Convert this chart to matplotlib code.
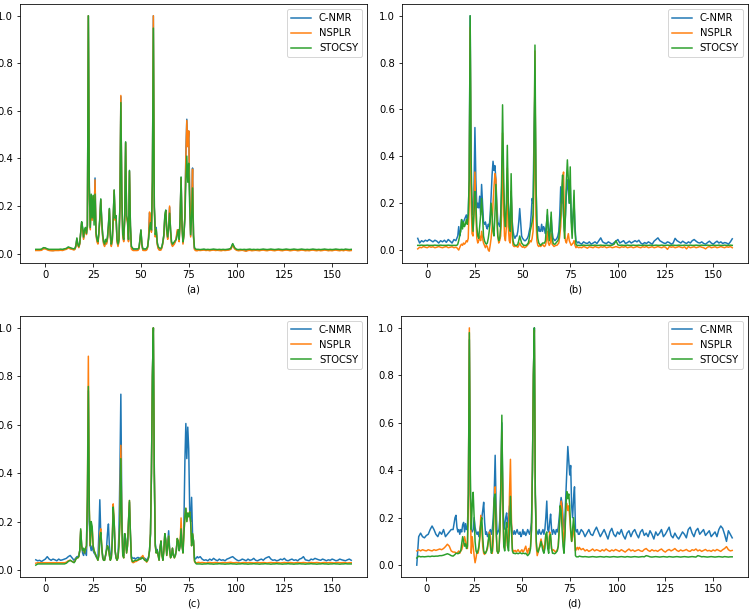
import numpy as np
import matplotlib
matplotlib.use('Agg')
import matplotlib.pyplot as plt

# x grid: coarse on the flat baseline, finer where the peaks are
x = np.concatenate([np.arange(-5, 15), np.arange(15, 80, 0.5), np.arange(80, 161)])

labels = ['C-NMR', 'NSPLR', 'STOCSY']
panel_names = ['(a)', '(b)', '(c)', '(d)']

# intensities in thousandths (-5..14 | 15..79.5 step .5 | 80..160)
a_cnmr = [
    15, 15, 16, 16, 22, 22, 18, 15, 14, 13, 14, 15, 15, 15, 16, 18, 20, 26, 22, 20,
    18, 20, 32, 62, 38, 28, 42, 88, 132, 105,
    65, 95, 105, 82, 115, 1000, 275, 105, 245, 145,
    242, 150, 318, 85, 55, 45, 85, 145, 228, 135,
    75, 45, 35, 55, 45, 65, 115, 188, 75, 35,
    55, 145, 266, 145, 155, 55, 35, 55, 195, 660,
    245, 75, 55, 145, 468, 155, 135, 55, 348, 115,
    30, 20, 16, 15, 16, 15, 16, 17, 22, 58,
    98, 38, 17, 16, 15, 16, 18, 28, 65, 170,
    140, 95, 305, 1000, 195, 110, 110, 45, 25, 18,
    16, 18, 28, 48, 78, 155, 182, 95, 65, 115,
    195, 95, 45, 35, 40, 45, 52, 65, 90, 100,
    55, 145, 320, 115, 45, 80, 155, 420, 565, 450,
    515, 250, 75, 200, 360, 75, 20, 16, 15, 14,
    16, 15, 16, 17, 15, 16, 14, 16, 17, 15,
    16, 15, 14, 16, 15, 16, 17, 20, 40, 22,
    16, 14, 15, 16, 14, 12, 15, 16, 14, 15,
    16, 15, 14, 16, 17, 15, 14, 16, 17, 15,
    14, 16, 17, 15, 14, 16, 17, 16, 14, 15,
    17, 16, 14, 15, 17, 16, 14, 15, 14, 16,
    17, 15, 14, 16, 14, 15, 17, 16, 14, 15,
    14, 16, 17, 15, 14, 16, 14, 17, 15, 14,
    15]
a_nsplr = [
    13, 13, 13, 14, 20, 20, 16, 13, 12, 12, 13, 13, 13, 14, 13, 16, 18, 24, 20, 18,
    15, 18, 30, 60, 35, 25, 40, 85, 130, 100,
    60, 90, 100, 80, 110, 1000, 270, 100, 240, 140,
    240, 150, 310, 80, 50, 40, 80, 140, 225, 130,
    70, 40, 30, 50, 40, 60, 110, 185, 70, 30,
    50, 140, 265, 140, 150, 50, 30, 50, 190, 665,
    240, 70, 50, 140, 465, 150, 130, 50, 345, 110,
    20, 15, 13, 13, 13, 13, 13, 14, 20, 55,
    95, 35, 14, 13, 13, 13, 15, 25, 70, 175,
    150, 90, 310, 1000, 190, 70, 100, 40, 22, 15,
    14, 15, 25, 45, 75, 150, 180, 90, 60, 120,
    200, 90, 40, 30, 35, 40, 50, 70, 100, 100,
    50, 140, 315, 110, 40, 80, 160, 400, 560, 450,
    516, 250, 70, 200, 355, 70, 18, 13, 12, 12,
    14, 13, 14, 15, 13, 14, 12, 14, 15, 13,
    14, 13, 12, 14, 13, 14, 15, 18, 35, 20,
    14, 12, 13, 14, 12, 10, 13, 14, 12, 13,
    14, 13, 12, 14, 15, 13, 12, 14, 15, 13,
    12, 14, 15, 13, 12, 14, 15, 14, 12, 13,
    15, 14, 12, 13, 15, 14, 12, 13, 12, 14,
    15, 13, 12, 14, 12, 13, 15, 14, 12, 13,
    12, 14, 15, 13, 12, 14, 12, 15, 13, 12,
    13]
a_stocsy = [
    18, 18, 18, 19, 25, 24, 20, 18, 18, 18, 18, 18, 18, 19, 18, 20, 22, 28, 25, 22,
    20, 22, 35, 66, 40, 30, 45, 90, 134, 110,
    70, 100, 110, 85, 120, 1000, 280, 110, 250, 150,
    245, 120, 250, 90, 60, 50, 90, 150, 230, 140,
    80, 50, 40, 60, 50, 70, 120, 190, 80, 40,
    60, 150, 268, 150, 160, 60, 40, 60, 200, 635,
    250, 80, 60, 150, 470, 160, 140, 60, 350, 120,
    30, 25, 20, 20, 20, 20, 20, 20, 25, 60,
    100, 40, 20, 20, 20, 20, 22, 30, 60, 110,
    130, 100, 300, 948, 200, 80, 100, 50, 30, 25,
    22, 22, 30, 50, 80, 160, 183, 100, 70, 110,
    170, 100, 50, 40, 45, 50, 55, 60, 80, 100,
    60, 150, 322, 120, 50, 80, 150, 300, 410, 300,
    380, 200, 80, 150, 276, 80, 25, 20, 18, 18,
    18, 17, 18, 19, 17, 18, 17, 18, 19, 18,
    17, 18, 17, 18, 17, 18, 19, 22, 42, 25,
    18, 17, 18, 17, 18, 17, 18, 19, 17, 18,
    17, 18, 17, 18, 19, 18, 17, 18, 19, 18,
    17, 18, 19, 18, 17, 18, 19, 18, 17, 18,
    19, 18, 17, 18, 19, 18, 17, 18, 17, 18,
    19, 18, 17, 18, 17, 18, 19, 18, 17, 18,
    17, 18, 19, 18, 17, 18, 17, 19, 18, 17,
    18]

b_cnmr = [
    50, 30, 40, 35, 42, 38, 45, 40, 35, 42, 38, 30, 40, 35, 42, 33, 45, 38, 30, 45,
    40, 50, 60, 100, 60, 80, 130, 110, 120, 130,
    140, 150, 125, 155, 300, 1000, 300, 200, 150, 250,
    523, 300, 180, 200, 180, 230, 150, 280, 200, 120,
    110, 120, 100, 90, 110, 100, 150, 230, 320, 379,
    340, 360, 300, 200, 120, 110, 100, 150, 250, 400,
    250, 150, 120, 150, 300, 200, 120, 100, 250, 130,
    80, 60, 50, 60, 60, 80, 120, 177, 120, 60,
    50, 45, 40, 40, 45, 50, 60, 80, 100, 150,
    220, 200, 500, 700, 300, 120, 80, 100, 80, 80,
    110, 80, 100, 90, 70, 110, 150, 90, 70, 100,
    140, 80, 50, 45, 40, 45, 50, 60, 80, 150,
    270, 200, 250, 150, 80, 150, 250, 300, 250, 200,
    280, 150, 80, 150, 200, 100, 40, 35, 30, 35,
    30, 25, 35, 30, 28, 35, 25, 30, 35, 28,
    40, 52, 35, 30, 28, 35, 30, 25, 32, 38,
    45, 30, 35, 40, 28, 32, 38, 30, 35, 40,
    35, 42, 30, 25, 32, 28, 35, 30, 25, 38,
    45, 52, 40, 35, 30, 28, 35, 32, 25, 30,
    50, 40, 35, 30, 38, 32, 28, 35, 30, 40,
    45, 38, 32, 30, 35, 28, 25, 32, 38, 30,
    25, 32, 38, 30, 35, 28, 32, 30, 25, 35,
    48]
b_nsplr = [
    5, 12, 10, 15, 12, 10, 15, 12, 14, 10, 12, 15, 12, 10, 13, 15, 10, 12, 14, 10,
    12, 10, 5, 0, 10, 20, 25, 20, 30, 25,
    30, 40, 35, 50, 200, 950, 200, 70, 60, 200,
    333, 150, 50, 30, 40, 60, 40, 80, 50, 30,
    20, 10, 20, 15, 0, -5, 20, 50, 100, 200,
    270, 326, 300, 150, 60, 30, 40, 60, 150, 500,
    200, 60, 40, 100, 350, 100, 40, 30, 250, 60,
    20, 15, 15, 18, 15, 12, 20, 30, 20, 15,
    12, 15, 10, 12, 15, 20, 25, 30, 40, 35,
    50, 80, 300, 850, 150, 40, 20, 15, 20, 15,
    20, 25, 18, 15, 20, 40, 80, 30, 20, 30,
    70, 25, 20, 15, 18, 20, 20, 25, 30, 60,
    100, 200, 300, 333, 80, 40, 30, 50, 70, 40,
    30, 20, 25, 30, 40, 20, 10, 15, 12, 10,
    12, 10, 15, 12, 8, 14, 12, 10, 15, 12,
    10, 14, 12, 15, 10, 12, 14, 10, 12, 15,
    12, 10, 14, 12, 15, 10, 12, 14, 10, 12,
    15, 12, 10, 14, 12, 15, 10, 12, 14, 10,
    12, 15, 12, 10, 14, 12, 3, 15, 12, 14,
    10, 12, 15, 12, 10, 14, 5, 15, 10, 12,
    14, 10, 12, 15, 12, 10, 5, 12, 15, 10,
    12, 14, 10, 12, 15, 12, 10, 14, 12, 15,
    10]
b_stocsy = [
    20, 20, 21, 20, 20, 21, 20, 20, 20, 21, 20, 20, 21, 20, 20, 20, 21, 20, 20, 20,
    20, 20, 25, 40, 60, 80, 130, 90, 120, 100,
    110, 130, 110, 150, 300, 1000, 400, 150, 80, 150,
    250, 200, 100, 60, 50, 100, 150, 220, 150, 60,
    40, 30, 25, 30, 50, 80, 120, 200, 150, 80,
    60, 150, 280, 150, 60, 40, 50, 100, 300, 620,
    350, 150, 100, 200, 447, 200, 100, 80, 326, 120,
    40, 25, 20, 20, 20, 25, 40, 60, 45, 30,
    25, 20, 20, 20, 20, 25, 30, 50, 80, 100,
    120, 150, 400, 875, 300, 100, 50, 30, 25, 20,
    25, 30, 30, 30, 40, 100, 173, 80, 40, 80,
    162, 60, 30, 25, 25, 30, 35, 40, 50, 100,
    150, 250, 320, 150, 50, 150, 300, 385, 300, 200,
    355, 120, 50, 150, 255, 80, 25, 20, 20, 20,
    20, 20, 21, 20, 20, 21, 20, 20, 21, 20,
    20, 21, 20, 20, 21, 20, 20, 21, 25, 40,
    22, 20, 21, 20, 20, 21, 20, 20, 21, 20,
    20, 21, 20, 20, 21, 20, 20, 21, 20, 20,
    21, 20, 20, 21, 20, 20, 21, 20, 20, 21,
    20, 20, 21, 20, 20, 21, 20, 20, 21, 20,
    20, 21, 20, 20, 21, 20, 20, 21, 20, 20,
    21, 20, 20, 21, 20, 20, 21, 20, 20, 21,
    20]

c_cnmr = [
    42, 38, 40, 35, 40, 45, 55, 45, 40, 45, 42, 38, 45, 40, 42, 45, 48, 55, 60, 50,
    40, 45, 50, 55, 55, 60, 80, 160, 100, 70,
    60, 80, 70, 60, 200, 740, 200, 100, 80, 100,
    80, 70, 65, 55, 50, 45, 150, 290, 150, 80,
    60, 40, 45, 60, 90, 150, 190, 100, 50, 55,
    110, 240, 200, 80, 50, 45, 60, 150, 400, 726,
    250, 70, 60, 150, 130, 80, 110, 200, 280, 150,
    55, 50, 48, 50, 45, 48, 50, 52, 48, 50,
    52, 48, 55, 50, 48, 45, 42, 45, 55, 80,
    150, 400, 800, 1000, 400, 110, 80, 85, 65, 50,
    95, 115, 65, 50, 85, 150, 125, 70, 110, 162,
    90, 55, 65, 90, 65, 55, 60, 85, 120, 110,
    80, 100, 160, 100, 80, 200, 450, 605, 460, 590,
    500, 250, 200, 300, 150, 120, 50, 45, 50, 55,
    50, 55, 45, 40, 42, 38, 45, 40, 48, 42,
    38, 45, 40, 42, 38, 45, 48, 52, 55, 48,
    42, 38, 40, 45, 42, 38, 45, 40, 42, 48,
    40, 38, 42, 45, 40, 48, 52, 55, 45, 40,
    42, 38, 40, 45, 42, 48, 40, 38, 42, 45,
    40, 42, 38, 45, 48, 55, 42, 40, 38, 45,
    42, 48, 45, 42, 40, 45, 42, 38, 42, 40,
    45, 42, 38, 40, 45, 42, 40, 38, 42, 45,
    40]
c_nsplr = [
    28, 30, 30, 30, 30, 30, 30, 30, 30, 30, 30, 30, 30, 30, 30, 30, 32, 38, 40, 35,
    32, 38, 45, 50, 50, 55, 80, 165, 100, 80,
    85, 70, 85, 95, 300, 883, 250, 100, 160, 170,
    100, 80, 70, 60, 50, 40, 60, 150, 170, 100,
    50, 40, 40, 60, 80, 100, 90, 60, 40, 50,
    120, 273, 200, 80, 50, 40, 50, 100, 200, 515,
    200, 60, 50, 150, 120, 70, 100, 200, 287, 150,
    45, 32, 30, 32, 35, 35, 38, 40, 42, 45,
    48, 55, 60, 50, 40, 38, 32, 38, 50, 80,
    150, 400, 800, 1000, 400, 100, 70, 80, 60, 40,
    90, 120, 60, 40, 80, 150, 120, 60, 100, 140,
    80, 50, 60, 90, 60, 50, 60, 80, 130, 120,
    80, 110, 215, 100, 70, 150, 220, 255, 200, 235,
    220, 240, 200, 100, 150, 120, 35, 30, 30, 30,
    32, 30, 31, 30, 29, 30, 31, 30, 30, 31,
    30, 29, 30, 31, 30, 30, 31, 32, 30, 30,
    31, 30, 29, 30, 31, 30, 30, 31, 30, 29,
    30, 31, 30, 30, 31, 30, 29, 30, 31, 30,
    30, 31, 30, 29, 30, 31, 30, 30, 31, 30,
    29, 30, 31, 30, 30, 31, 30, 29, 30, 31,
    30, 30, 31, 30, 29, 30, 31, 30, 30, 31,
    30, 29, 30, 31, 30, 30, 31, 30, 29, 30,
    30]
c_stocsy = [
    20, 25, 25, 25, 25, 25, 25, 25, 25, 25, 25, 25, 25, 25, 25, 25, 28, 35, 40, 35,
    30, 35, 45, 50, 50, 55, 80, 170, 100, 80,
    90, 70, 90, 100, 300, 758, 250, 100, 200, 180,
    100, 80, 70, 60, 50, 40, 60, 130, 155, 100,
    50, 40, 40, 60, 80, 100, 90, 60, 40, 50,
    120, 260, 200, 80, 50, 40, 50, 100, 200, 460,
    200, 60, 50, 150, 120, 70, 100, 200, 287, 150,
    50, 35, 35, 38, 40, 40, 40, 42, 45, 45,
    45, 50, 50, 45, 40, 40, 35, 40, 50, 80,
    150, 400, 800, 1000, 400, 100, 70, 80, 60, 40,
    90, 120, 60, 40, 80, 150, 120, 60, 100, 140,
    80, 50, 60, 90, 60, 50, 60, 80, 130, 120,
    80, 100, 170, 100, 70, 150, 220, 255, 200, 235,
    220, 240, 200, 100, 150, 120, 40, 30, 25, 25,
    25, 25, 24, 25, 25, 26, 25, 25, 24, 25,
    25, 26, 25, 25, 24, 25, 25, 26, 25, 25,
    24, 25, 25, 26, 25, 25, 24, 25, 25, 26,
    25, 25, 24, 25, 25, 26, 25, 25, 24, 25,
    25, 26, 25, 25, 24, 25, 25, 26, 25, 25,
    24, 25, 25, 26, 25, 25, 24, 25, 25, 26,
    25, 25, 24, 25, 25, 26, 25, 25, 24, 25,
    25, 26, 25, 25, 24, 25, 25, 26, 25, 25,
    25]

d_cnmr = [
    0, 120, 135, 120, 115, 125, 130, 150, 165, 150, 130, 120, 140, 130, 150, 120, 130, 140, 150, 150,
    200, 210, 160, 140, 150, 130, 150, 140, 170, 180,
    140, 175, 150, 160, 300, 950, 300, 150, 140, 150,
    200, 160, 140, 130, 140, 120, 150, 170, 200, 230,
    265, 180, 130, 140, 120, 130, 140, 150, 130, 150,
    200, 300, 463, 250, 130, 140, 150, 200, 350, 600,
    300, 150, 170, 200, 220, 160, 200, 250, 220, 170,
    140, 130, 145, 130, 140, 150, 135, 130, 140, 120,
    130, 150, 130, 140, 125, 135, 150, 140, 130, 150,
    180, 400, 800, 1000, 300, 150, 140, 130, 150, 135,
    130, 140, 150, 130, 150, 200, 270, 150, 140, 180,
    215, 150, 130, 150, 140, 130, 150, 140, 160, 200,
    250, 285, 260, 200, 150, 200, 300, 400, 500, 440,
    380, 420, 250, 200, 280, 330, 150, 140, 150, 130,
    130, 150, 140, 120, 135, 150, 130, 125, 145, 160,
    140, 120, 135, 150, 130, 110, 140, 155, 130, 120,
    140, 130, 150, 125, 110, 135, 145, 120, 140, 150,
    130, 115, 140, 150, 125, 135, 120, 145, 130, 110,
    140, 125, 135, 150, 120, 130, 145, 160, 125, 115,
    135, 120, 110, 125, 140, 130, 115, 150, 160, 135,
    120, 145, 155, 130, 140, 150, 125, 135, 145, 120,
    130, 140, 120, 150, 165, 155, 130, 100, 145, 130,
    115]
d_nsplr = [
    60, 65, 60, 65, 62, 60, 65, 62, 60, 65, 62, 65, 68, 65, 70, 78, 88, 80, 60, 55,
    55, 50, 50, 55, 60, 50, 60, 65, 80, 100,
    120, 100, 80, 70, 300, 1000, 250, 50, 120, 80,
    40, 10, 30, 60, 50, 70, 120, 210, 150, 80,
    50, 45, 55, 60, 70, 100, 140, 120, 60, 50,
    100, 250, 330, 150, 60, 50, 60, 150, 300, 560,
    250, 80, 70, 150, 120, 80, 100, 300, 446, 200,
    70, 55, 60, 62, 55, 60, 65, 58, 55, 60,
    65, 55, 60, 70, 80, 60, 50, 70, 60, 80,
    150, 400, 800, 990, 300, 80, 40, 55, 70, 90,
    110, 90, 80, 60, 90, 130, 120, 80, 70, 140,
    110, 70, 60, 65, 60, 55, 60, 65, 80, 150,
    220, 270, 240, 150, 80, 150, 240, 260, 230, 250,
    200, 140, 100, 120, 170, 120, 60, 70, 75, 65,
    75, 65, 70, 60, 65, 58, 62, 68, 60, 65,
    62, 58, 65, 60, 68, 62, 58, 64, 60, 66,
    62, 58, 65, 60, 55, 62, 68, 60, 64, 58,
    62, 65, 60, 58, 66, 70, 62, 58, 65, 60,
    62, 58, 64, 68, 60, 55, 62, 66, 60, 64,
    70, 62, 58, 64, 60, 62, 66, 60, 58, 65,
    62, 68, 60, 64, 58, 62, 66, 60, 62, 58,
    64, 60, 66, 62, 58, 65, 70, 78, 65, 60,
    62]
d_stocsy = [
    30, 38, 35, 36, 35, 36, 37, 36, 38, 37, 38, 38, 40, 40, 42, 45, 48, 45, 40, 38,
    45, 50, 50, 48, 50, 55, 60, 90, 120, 100,
    80, 90, 70, 80, 300, 980, 400, 150, 250, 307,
    200, 100, 60, 50, 60, 80, 120, 180, 200, 120,
    60, 50, 50, 60, 80, 110, 130, 80, 50, 60,
    150, 280, 300, 150, 60, 50, 60, 150, 350, 632,
    300, 80, 60, 150, 180, 80, 60, 150, 290, 150,
    60, 50, 50, 48, 50, 50, 48, 50, 52, 50,
    48, 50, 50, 48, 50, 45, 40, 45, 50, 70,
    150, 400, 800, 1000, 300, 100, 60, 55, 70, 80,
    100, 80, 60, 50, 70, 130, 140, 70, 50, 120,
    130, 70, 50, 50, 48, 50, 55, 60, 80, 150,
    250, 230, 150, 80, 50, 120, 250, 310, 280, 300,
    250, 150, 100, 150, 200, 150, 40, 35, 35, 35,
    38, 36, 35, 36, 35, 34, 35, 36, 35, 34,
    35, 36, 35, 34, 36, 35, 34, 35, 36, 35,
    34, 35, 36, 35, 34, 36, 35, 34, 35, 36,
    35, 34, 35, 36, 35, 40, 38, 35, 34, 35,
    36, 35, 34, 35, 36, 35, 34, 36, 35, 34,
    35, 36, 35, 34, 35, 36, 35, 34, 35, 36,
    35, 34, 40, 38, 35, 36, 35, 34, 35, 36,
    35, 34, 35, 36, 35, 34, 36, 35, 34, 35,
    35]

panels = [
    (a_cnmr, a_nsplr, a_stocsy),
    (b_cnmr, b_nsplr, b_stocsy),
    (c_cnmr, c_nsplr, c_stocsy),
    (d_cnmr, d_nsplr, d_stocsy),
]

W, H = 749, 611
fig = plt.figure(figsize=(W / 72, H / 72), dpi=72)

# axes boxes in pixels: left, top, right, bottom
boxes = [(20, 4, 367, 263), (402, 4, 748, 263),
         (20, 316, 367, 577), (401, 316, 748, 577)]

for name, series, (l, t, r, b) in zip(panel_names, panels, boxes):
    ax = fig.add_axes([l / W, 1 - b / H, (r - l) / W, (b - t) / H])
    for lab, ys in zip(labels, series):
        ax.plot(x, np.array(ys) / 1000, label=lab)
    ax.set_xticks([0, 25, 50, 75, 100, 125, 150])
    ax.set_yticks([0.0, 0.2, 0.4, 0.6, 0.8, 1.0])
    ax.set_xlabel(name)
    ax.legend(loc='upper right')

fig.savefig('out.png', dpi=72)
